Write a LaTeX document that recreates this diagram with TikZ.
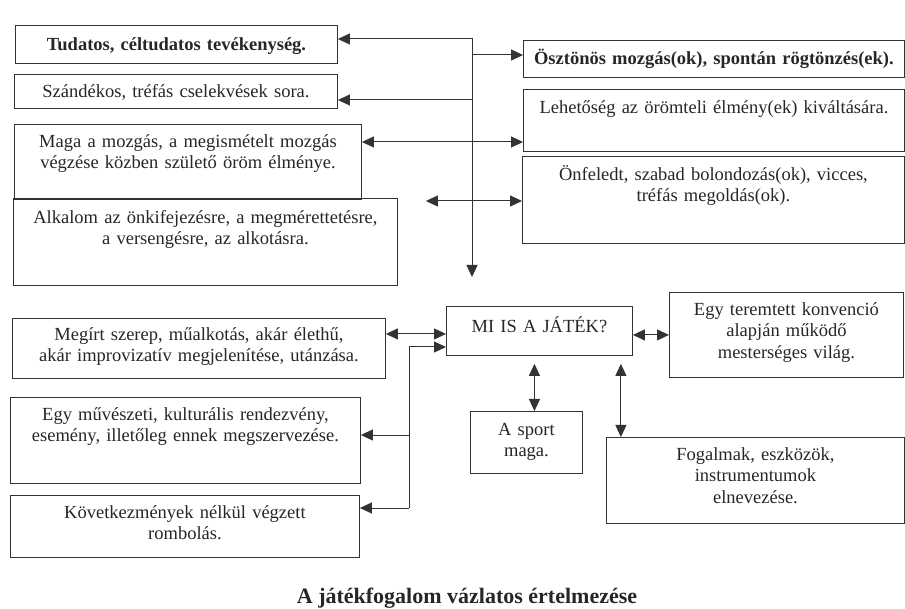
\documentclass[tikz,border=0pt]{standalone}
\usepackage{fontspec}
\setmainfont{Liberation Serif}
\usetikzlibrary{arrows.meta}
\definecolor{ink}{HTML}{333333}
\begin{document}
\begin{tikzpicture}[x=1pt,y=-1pt,
		>={Triangle[length=12pt,width=11pt]},
		box/.style={draw=ink,line width=0.9pt,inner sep=0pt,anchor=north west,align=center,text=black!85,
			font=\fontsize{18.5}{21.5}\selectfont},
		dims/.style n args={3}{text width=#1pt,text height=#2pt,text depth=#3pt},
		link/.style={draw=ink,line width=1pt}]
			\useasboundingbox (0,0) rectangle (905,609);

			\node [box,dims={322}{25}{13}] (t1) at (15,25) {\textbf{Tudatos, céltudatos tevékenység.}};
			\node [box,dims={323}{23}{11}] (t2) at (14,74) {Szándékos, tréfás cselekvések sora.};
			\node [box,dims={347}{23}{52}] (t3) at (14,124) {Maga a mozgás, a megismételt mozgás\\végzése közben születő öröm élménye.};
			\node [box,dims={384}{25}{62}] (t4) at (13,198) {Alkalom az önkifejezésre, a megmérettetésre,\\a versengésre, az alkotásra.};

			\node [box,dims={381}{24}{13}] (r1) at (523,40) {\textbf{Ösztönös mozgás(ok), spontán rögtönzés(ek).}};
			\node [box,dims={381}{24}{38}] (r2) at (523,89) {Lehetőség az örömteli élmény(ek) kiváltására.};
			\node [box,dims={382}{24}{63}] (r3) at (522,156) {Önfeledt, szabad bolondozás(ok), vicces,\\tréfás megoldás(ok).};

			\node [box,dims={186}{26}{23}] (mi) at (446,306) {MI IS A JÁTÉK?};
			\node [box,dims={234}{23}{62}] (egy) at (669,292) {Egy teremtett konvenció\\alapján működő\\mesterséges világ.};
			\node [box,dims={112}{24}{38}] (sport) at (470,411) {A sport\\maga.};
			\node [box,dims={298}{23}{63}] (fog) at (606,437) {Fogalmak, eszközök,\\instrumentumok\\elnevezése.};

			\node [box,dims={373}{22}{38}] (b1) at (12,318) {Megírt szerep, műalkotás, akár élethű,\\akár improvizatív megjelenítése, utánzása.};
			\node [box,dims={350}{23}{63}] (b2) at (10,397) {Egy művészeti, kulturális rendezvény,\\esemény, illetőleg ennek megszervezése.};
			\node [box,dims={349}{23}{39}] (b3) at (10,495) {Következmények nélkül végzett\\rombolás.};

			\node [anchor=base,text=black!85,font=\bfseries\fontsize{22}{26}\selectfont] (cap) at (467,603) {A játékfogalom vázlatos értelmezése};

			\coordinate (top) at (472,39);
			\coordinate (j1) at (472,55);
			\coordinate (j2) at (472,100);
			\coordinate (j3) at (472,142);
			\coordinate (j4) at (472,201);
			\coordinate (brtop) at (409,347);
			\coordinate (brmid) at (409,435);
			\coordinate (brbot) at (409,508);

			\draw [link,<->,shorten >=29pt] (top -| t1.east) -- (top) -- (top |- mi.north);
			\draw [link,->] (j1) -- (j1 -| r1.west);
			\draw [link,->] (j2) -- (j2 -| t2.east);
			\draw [link,<->] (j3 -| t3.east) -- (j3 -| r2.west);
			\draw [link,<->,shorten <=28pt] (j4 -| t4.east) -- (j4 -| r3.west);

			\draw [link,<->] ([yshift=-4pt]mi.east) -- ([yshift=-4pt]mi.east -| egy.west);
			\draw [link,<->] ([yshift=-3pt]mi.west) -- ([yshift=-3pt]mi.west -| b1.east);
			\draw [link,->] (brbot) -- (brtop) -- (brtop -| mi.west);
			\draw [link,->] (brmid) -- (brmid -| b2.east);
			\draw [link,->] (brbot) -- (brbot -| b3.east);
			\draw [link,<->,shorten <=8pt] ([xshift=8pt]sport.north |- mi.south) -- ([xshift=8pt]sport.north);
			\draw [link,<->,shorten <=8pt] ([xshift=-12pt]mi.south east) -- ([xshift=-12pt]mi.south east |- fog.north);
		\end{tikzpicture}
\end{document}
